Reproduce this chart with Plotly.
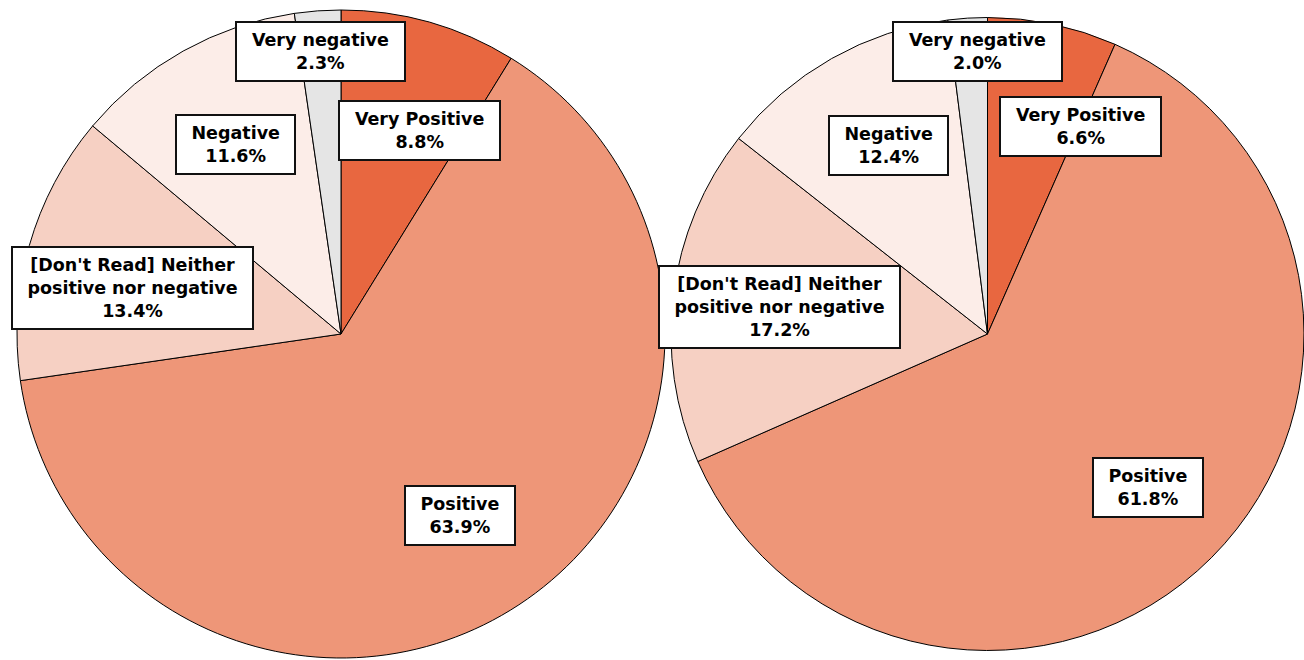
import math
import plotly.graph_objects as go

# ---- data ----
categories = ["Very Positive", "Positive",
              "[Don't Read] Neither<br>positive nor negative",
              "Negative", "Very negative"]
left_values = [8.8, 63.9, 13.4, 11.6, 2.3]
right_values = [6.6, 61.8, 17.2, 12.4, 2.0]
colors = ["#E86740", "#EE9678", "#F6D0C3", "#FCEDE8", "#E5E5E5"]

# ---- layout geometry (pixels) ----
W, H = 1304, 660
R = 324
pies = [
    {"values": left_values, "cx": 341, "cy": 334,
     "nudge": {0: (19, 5), 2: (0, 13)}},
    {"values": right_values, "cx": 995, "cy": 334,
     "nudge": {0: (41, 5)}},
]
FONT = 17.5

# DejaVu Sans Bold advance widths (em)
CW = {" ": .348, "a": .675, "e": .678, "g": .716, "i": .343, "n": .712,
      "o": .687, "p": .716, "r": .493, "s": .595, "t": .478, "v": .652,
      "y": .652, "V": .774, "P": .732, "N": .837, "D": .830, "R": .770,
      "d": .716, "h": .712, ".": .381, "%": 1.002, "[": .457, "]": .457,
      "'": .375}


def text_width(line):
    return sum(CW.get(c, .696) for c in line) * FONT


def clamp(v):
    return max(0.0, min(1.0, v))


fig = go.Figure()
annotations = []
for p in pies:
    cx, cy = p["cx"], p["cy"]
    fig.add_trace(go.Pie(
        labels=[c.replace("<br>", " ") for c in categories],
        values=p["values"],
        sort=False, direction="clockwise", rotation=0,
        marker=dict(colors=colors, line=dict(color="black", width=1)),
        textinfo="none", showlegend=False,
        domain=dict(x=[clamp((cx - R) / W), clamp((cx + R) / W)],
                    y=[clamp(1 - (cy + R) / H), clamp(1 - (cy - R) / H)]),
    ))
    total = sum(p["values"])
    cum = 0.0
    for i, (cat, v) in enumerate(zip(categories, p["values"])):
        mid = (cum + v / 2) / total * 2 * math.pi
        cum += v
        frac = 0.875 if v / total < 0.04 else 0.67
        lx = cx + math.sin(mid) * R * frac
        ly = cy - math.cos(mid) * R * frac
        dx, dy = p["nudge"].get(i, (0, 0))
        lx += dx
        ly += dy
        txt = f"{cat}<br>{v:.1f}%"
        tw = max(text_width(l) for l in txt.split("<br>"))
        annotations.append(dict(
            x=lx / W, y=1 - ly / H, xref="paper", yref="paper",
            xanchor="center", yanchor="middle", showarrow=False,
            text=f"<b>{txt}</b>", align="center",
            font=dict(family="DejaVu Sans", size=FONT, color="black"),
            bgcolor="white", bordercolor="#111111", borderwidth=2,
            borderpad=7, width=tw + 15,
        ))

fig.update_layout(
    width=W, height=H, autosize=False,
    margin=dict(l=0, r=0, t=0, b=0),
    paper_bgcolor="white", plot_bgcolor="white",
    annotations=annotations,
)
fig.write_html(
    "out.html",
    config={"displayModeBar": False},
    post_script="document.body.style.margin='0';"
                "document.body.style.overflow='hidden';",
)
